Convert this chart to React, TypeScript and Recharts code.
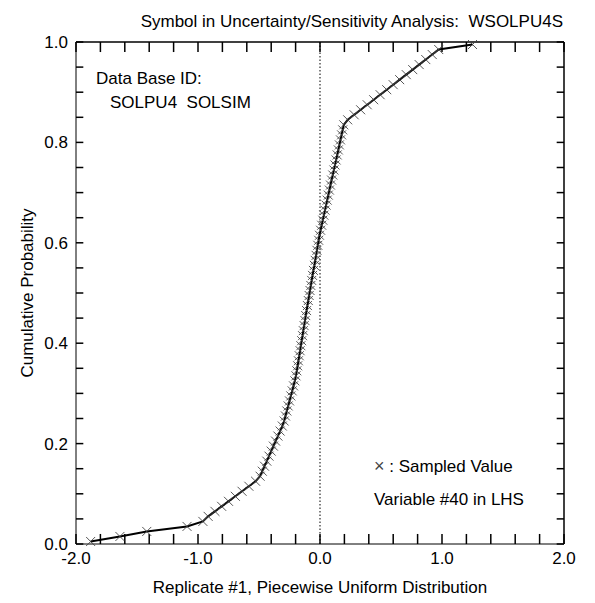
import { LineChart, Line, XAxis, YAxis, ReferenceLine } from "recharts";

// sorted LHS sample (replicate #1) and its plotting positions
const sampleX = [
  -1.88, -1.64, -1.42, -1.09,
  -0.96, -0.917, -0.861, -0.806, -0.75, -0.694, -0.639, -0.583, -0.528,
  -0.491, -0.473, -0.455, -0.436, -0.418, -0.4, -0.382, -0.364, -0.345, -0.327, -0.309,
  -0.294, -0.283, -0.272, -0.261, -0.25, -0.239, -0.228, -0.217, -0.206,
  -0.197, -0.19, -0.183, -0.177, -0.17, -0.163, -0.157, -0.15, -0.143, -0.137, -0.13, -0.123, -0.117, -0.11, -0.103,
  -0.096, -0.089, -0.082, -0.075, -0.068, -0.061, -0.054, -0.046, -0.039, -0.032, -0.025, -0.018, -0.011, -0.004,
  0.005, 0.014, 0.023, 0.032, 0.041, 0.05, 0.059, 0.068, 0.077, 0.086, 0.095, 0.105, 0.114, 0.123, 0.132, 0.141,
  0.15, 0.159, 0.168, 0.177, 0.186, 0.195,
  0.227, 0.28, 0.333, 0.387, 0.44, 0.493, 0.547, 0.6, 0.653, 0.707, 0.76, 0.813, 0.867, 0.92, 0.973,
  1.25,
];

const cumProb = [
  0.005, 0.015, 0.025, 0.035, 0.045, 0.055, 0.065, 0.075, 0.085, 0.095,
  0.105, 0.115, 0.125, 0.135, 0.145, 0.155, 0.165, 0.175, 0.185, 0.195,
  0.205, 0.215, 0.225, 0.235, 0.245, 0.255, 0.265, 0.275, 0.285, 0.295,
  0.305, 0.315, 0.325, 0.335, 0.345, 0.355, 0.365, 0.375, 0.385, 0.395,
  0.405, 0.415, 0.425, 0.435, 0.445, 0.455, 0.465, 0.475, 0.485, 0.495,
  0.505, 0.515, 0.525, 0.535, 0.545, 0.555, 0.565, 0.575, 0.585, 0.595,
  0.605, 0.615, 0.625, 0.635, 0.645, 0.655, 0.665, 0.675, 0.685, 0.695,
  0.705, 0.715, 0.725, 0.735, 0.745, 0.755, 0.765, 0.775, 0.785, 0.795,
  0.805, 0.815, 0.825, 0.835, 0.845, 0.855, 0.865, 0.875, 0.885, 0.895,
  0.905, 0.915, 0.925, 0.935, 0.945, 0.955, 0.965, 0.975, 0.985, 0.995,
];

const xTicks = [-2, -1.8, -1.6, -1.4, -1.2, -1, -0.8, -0.6, -0.4, -0.2, 0, 0.2, 0.4, 0.6, 0.8, 1, 1.2, 1.4, 1.6, 1.8, 2];
const yTicks = [0, 0.05, 0.1, 0.15, 0.2, 0.25, 0.3, 0.35, 0.4, 0.45, 0.5, 0.55, 0.6, 0.65, 0.7, 0.75, 0.8, 0.85, 0.9, 0.95, 1];
const xLabels = [-2, -1, 0, 1, 2];
const yLabels = [0, 0.2, 0.4, 0.6, 0.8, 1];

const data = sampleX.map((x, i) => ({ x, p: cumProb[i] }));

const FONT = "'Liberation Sans', Arial, sans-serif";

function XMark({ cx, cy }: any) {
  const s = 4.5;
  return (
    <g stroke="#444" strokeWidth={0.9}>
      <line x1={cx - s} y1={cy - s} x2={cx + s} y2={cy + s} />
      <line x1={cx - s} y1={cy + s} x2={cx + s} y2={cy - s} />
    </g>
  );
}

const tickFont = { fontSize: 17, fill: "#000", fontFamily: FONT };
const t = { fontSize: 17, fill: "#000", fontFamily: FONT };

export default function App() {
  return (
    <div style={{ position: "absolute", left: 0, top: 0, width: 595, height: 603, background: "#fff" }}>
      <LineChart width={595} height={603} data={data} margin={{ top: 42, right: 31, bottom: 29, left: 36 }}>
        <XAxis
          dataKey="x"
          type="number"
          domain={[-2, 2]}
          ticks={xLabels}
          height={30}
          tickLine={false}
          tick={tickFont}
          tickFormatter={(v: number) => v.toFixed(1)}
          stroke="#000"
        />
        <YAxis
          type="number"
          domain={[0, 1]}
          ticks={yLabels}
          width={40}
          tickLine={false}
          tick={tickFont}
          tickFormatter={(v: number) => v.toFixed(1)}
          stroke="#000"
        />
        {xTicks.map((v) => (
          <ReferenceLine key={`b${v}`} segment={[{ x: v, y: 0 }, { x: v, y: 0.02 }]} stroke="#000" strokeWidth={1.5} />
        ))}
        {xTicks.map((v) => (
          <ReferenceLine key={`t${v}`} segment={[{ x: v, y: 1 }, { x: v, y: 0.98 }]} stroke="#000" strokeWidth={1.5} />
        ))}
        {yTicks.map((v) => (
          <ReferenceLine key={`l${v}`} segment={[{ x: -2, y: v }, { x: -1.94, y: v }]} stroke="#000" strokeWidth={1.5} />
        ))}
        {yTicks.map((v) => (
          <ReferenceLine key={`r${v}`} segment={[{ x: 2, y: v }, { x: 1.94, y: v }]} stroke="#000" strokeWidth={1.5} />
        ))}
        <ReferenceLine y={1} stroke="#000" strokeWidth={1.5} />
        <ReferenceLine x={2} stroke="#000" strokeWidth={1.5} />
        <ReferenceLine x={0} stroke="#000" strokeWidth={1} strokeDasharray="1.5 2" />
        <Line
          dataKey="p"
          type="linear"
          stroke="#000"
          strokeWidth={2}
          dot={(p: any) => <XMark key={p.index} cx={p.cx} cy={p.cy} />}
          activeDot={false}
          isAnimationActive={false}
        />
        <text x={563} y={27} textAnchor="end" {...t}>Symbol in Uncertainty/Sensitivity Analysis:{"\u00a0 "}WSOLPU4S</text>
        <text x={96} y={84} {...t}>Data Base ID:</text>
        <text x={110} y={108} {...t}>SOLPU4{"\u00a0 "}SOLSIM</text>
        <text x={374} y={472} {...t}>
          <tspan fill="#444" fontSize={18}>×</tspan> : Sampled Value
        </text>
        <text x={374} y={505} {...t}>Variable #40 in LHS</text>
        <text x={320} y={593} textAnchor="middle" {...t}>Replicate #1, Piecewise Uniform Distribution</text>
        <text x={33} y={293} textAnchor="middle" transform="rotate(-90 33 293)" {...t}>Cumulative Probability</text>
      </LineChart>
    </div>
  );
}
